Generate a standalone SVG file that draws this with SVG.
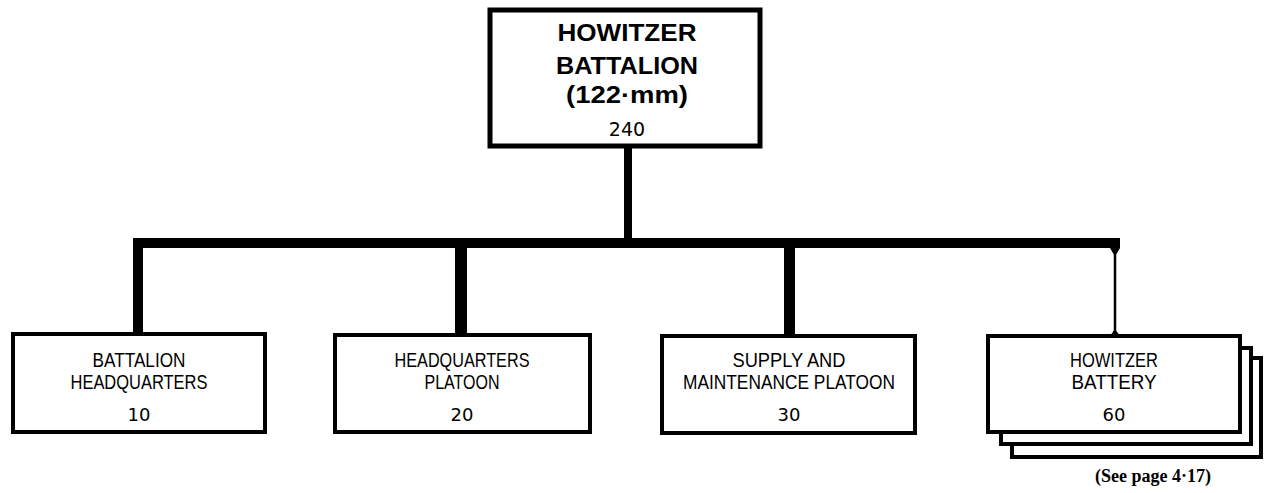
<svg xmlns="http://www.w3.org/2000/svg" width="1264" height="493" viewBox="0 0 1264 493">
<style>
.box{fill:#fff;stroke:#000;stroke-width:4}
.top{fill:#fff;stroke:#000;stroke-width:5}
.bar{fill:#000}
.t{font-family:"Liberation Sans",Arial,sans-serif;font-size:21px;text-anchor:middle;fill:#000}
.tb{font-family:"Liberation Sans",Arial,sans-serif;font-size:24px;font-weight:bold;text-anchor:middle;fill:#000}
.n{font-family:"DejaVu Sans",sans-serif;font-size:18px;text-anchor:middle;fill:#000}
.note{font-family:"Liberation Serif","Times New Roman",serif;font-size:18px;font-weight:bold;text-anchor:middle;fill:#000}
</style>
<rect width="1264" height="493" fill="#fff"/>
<g id="connectors">
<rect class="bar" x="624" y="146" width="8" height="94"/>
<rect class="bar" x="133" y="238" width="987" height="10"/>
<rect class="bar" x="133" y="238" width="10" height="97"/>
<rect class="bar" x="455" y="238" width="12" height="97"/>
<rect class="bar" x="784" y="246" width="11" height="90"/>
<line x1="1115" y1="248" x2="1115" y2="336" stroke="#000" stroke-width="2.5"/>
<path d="M1110,248 L1120,248 L1116.5,254 L1113.5,254 Z" fill="#000"/>
<path d="M1110,336 L1120,336 L1116.5,331 L1113.5,331 Z" fill="#000"/>
</g>
<g id="battalion">
<rect class="top" x="490" y="10" width="270" height="136"/>
<text class="tb" x="627" y="41" textLength="139" lengthAdjust="spacingAndGlyphs">HOWITZER</text>
<text class="tb" x="627" y="74" textLength="142" lengthAdjust="spacingAndGlyphs">BATTALION</text>
<text class="tb" x="627" y="103" textLength="122" lengthAdjust="spacingAndGlyphs">(122·mm)</text>
<text class="n" x="627" y="136" style="font-size:19px">240</text>
</g>
<g id="bn-hq">
<rect class="box" x="13" y="334" width="252" height="98"/>
<text class="t" x="139" y="367" textLength="93" lengthAdjust="spacingAndGlyphs">BATTALION</text>
<text class="t" x="139" y="389" textLength="137" lengthAdjust="spacingAndGlyphs">HEADQUARTERS</text>
<text class="n" x="139" y="421">10</text>
</g>
<g id="hq-platoon">
<rect class="box" x="335" y="335" width="255" height="97"/>
<text class="t" x="462" y="367" textLength="135" lengthAdjust="spacingAndGlyphs">HEADQUARTERS</text>
<text class="t" x="462" y="389" textLength="75" lengthAdjust="spacingAndGlyphs">PLATOON</text>
<text class="n" x="462" y="421">20</text>
</g>
<g id="supply">
<rect class="box" x="662" y="336" width="253" height="97"/>
<text class="t" x="789" y="367" textLength="113" lengthAdjust="spacingAndGlyphs">SUPPLY  AND</text>
<text class="t" x="789" y="389" textLength="212" lengthAdjust="spacingAndGlyphs">MAINTENANCE  PLATOON</text>
<text class="n" x="789" y="421">30</text>
</g>
<g id="battery">
<rect class="box" x="1012" y="358" width="249" height="99"/>
<rect class="box" x="1001" y="348" width="250" height="96"/>
<rect class="box" x="988" y="336" width="252" height="96"/>
<text class="t" x="1114" y="367" textLength="88" lengthAdjust="spacingAndGlyphs">HOWITZER</text>
<text class="t" x="1114" y="389" textLength="85" lengthAdjust="spacingAndGlyphs">BATTERY</text>
<text class="n" x="1114" y="421">60</text>
<text class="note" x="1153" y="482" textLength="116" lengthAdjust="spacingAndGlyphs">(See  page  4·17)</text>
</g>
</svg>
